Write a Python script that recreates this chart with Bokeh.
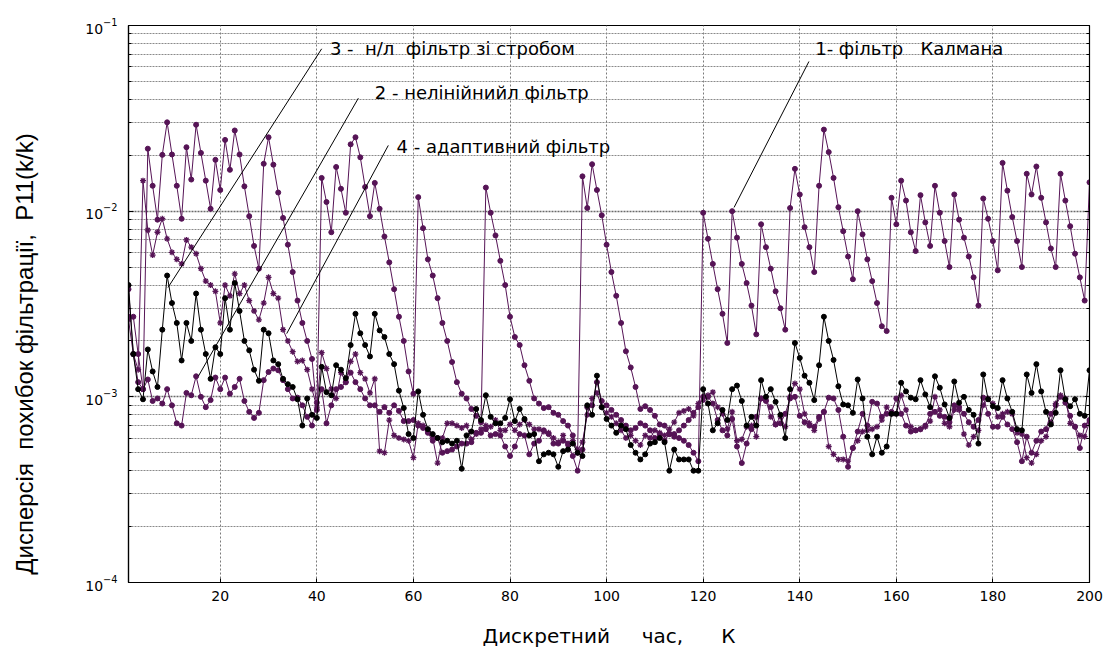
from bokeh.plotting import figure
from bokeh.models import FixedTicker, Label, LogAxis, Range1d
from bokeh.embed import file_html
from bokeh.resources import INLINE

# ---------------- data ----------------
k = list(range(1, 201))

kalman = [
    0.0038, 0.0017, 0.0012, 0.0011, 0.0217, 0.0137, 0.0090, 0.0201, 0.0301, 0.0202,
    0.0137, 0.0091, 0.0221, 0.0148, 0.0292, 0.0206, 0.0146, 0.0103, 0.0189, 0.0130,
    0.0242, 0.0167, 0.0272, 0.0202, 0.0136, 0.0094, 0.0065, 0.0049, 0.0180, 0.0250,
    0.0178, 0.0126, 0.0092, 0.0066, 0.0047, 0.0033, 0.0025, 0.0020, 0.0016, 0.00085,
    0.0151, 0.0112, 0.0077, 0.0173, 0.0132, 0.0098, 0.0229, 0.0250, 0.0195, 0.0135,
    0.0094, 0.0142, 0.0103, 0.0073, 0.0053, 0.0038, 0.0027, 0.0020, 0.00137, 0.00104,
    0.0119, 0.0081, 0.0055, 0.0045, 0.0034, 0.0025, 0.0020, 0.00154, 0.0012, 0.00104,
    0.00098, 0.00086, 0.00079, 0.00073, 0.0134, 0.0098, 0.0074, 0.0054, 0.0040, 0.0027,
    0.0021, 0.0019, 0.00148, 0.00122, 0.00098, 0.00092, 0.00087, 0.00088, 0.00082, 0.00080,
    0.00074, 0.00070, 0.00062, 0.00050, 0.0154, 0.0104, 0.0179, 0.0130, 0.0095, 0.0066,
    0.0047, 0.0035, 0.0025, 0.00176, 0.00144, 0.00113, 0.00086, 0.00089, 0.00085, 0.00079,
    0.00071, 0.00070, 0.00063, 0.00063, 0.00060, 0.00058, 0.00055, 0.00050, 0.00045, 0.0098,
    0.0071, 0.0052, 0.0038, 0.0028, 0.00195, 0.0100, 0.0072, 0.0052, 0.0041, 0.0031,
    0.00217, 0.0085, 0.0064, 0.0049, 0.0037, 0.0030, 0.0023, 0.0104, 0.0169, 0.0123,
    0.0082, 0.0064, 0.0047, 0.0137, 0.0275, 0.0208, 0.0151, 0.0105, 0.0078, 0.0057,
    0.0043, 0.0100, 0.0075, 0.0055, 0.0042, 0.0032, 0.0024, 0.00226, 0.0118, 0.0085,
    0.0146, 0.0114, 0.0077, 0.0061, 0.0122, 0.0087, 0.0065, 0.0137, 0.0098, 0.0069,
    0.0050, 0.0123, 0.0090, 0.0072, 0.0057, 0.0044, 0.0031, 0.0117, 0.0091, 0.0069,
    0.0048, 0.0182, 0.0129, 0.0093, 0.0069, 0.0050, 0.0159, 0.0123, 0.0174, 0.0118,
    0.0087, 0.0063, 0.0050, 0.0159, 0.0114, 0.0083, 0.0059, 0.0044, 0.0033, 0.0143,
]

nonlinear = [
    0.0027, 0.0027, 0.0017, 0.0011, 0.00124, 0.00095, 0.00098, 0.00092, 0.0011, 0.0009,
    0.00072, 0.0007, 0.00105, 0.00102, 0.00129, 0.0010, 0.00088, 0.00096, 0.00127, 0.0011,
    0.00127, 0.00104, 0.00113, 0.00125, 0.00095, 0.00083, 0.00077, 0.00082, 0.00123, 0.00136,
    0.00142, 0.00139, 0.00123, 0.0011, 0.00098, 0.00099, 0.0009, 0.00078, 0.0007, 0.00093,
    0.0011, 0.00072, 0.0009, 0.0011, 0.00113, 0.0012, 0.00135, 0.0012, 0.0011, 0.00098,
    0.0009, 0.0009, 0.00083, 0.00088, 0.00082, 0.0009, 0.00084, 0.00074, 0.00074, 0.00075,
    0.0007, 0.00068, 0.00064, 0.00058, 0.0006, 0.0005, 0.00051, 0.00052, 0.00054, 0.00056,
    0.00056, 0.00057, 0.00064, 0.00064, 0.00067, 0.00062, 0.00063, 0.00062, 0.00054, 0.00048,
    0.00054, 0.00063, 0.00062, 0.00049, 0.00056, 0.00058, 0.00066, 0.00063, 0.00056, 0.00056,
    0.00058, 0.00056, 0.00048, 0.0004, 0.00052, 0.00088, 0.0009, 0.0012, 0.00095, 0.0009,
    0.00085, 0.0008, 0.00075, 0.0007, 0.00066, 0.00068, 0.00072, 0.0007, 0.00066, 0.0006,
    0.00063, 0.00058, 0.00063, 0.00061, 0.00066, 0.0007, 0.00075, 0.00082, 0.00088, 0.0010,
    0.0010, 0.00092, 0.00075, 0.00066, 0.00062, 0.00076, 0.00054, 0.00044, 0.00056, 0.00067,
    0.00078, 0.00098, 0.00095, 0.00088, 0.00071, 0.00072, 0.00081, 0.00098, 0.0010, 0.00079,
    0.00073, 0.0007, 0.00069, 0.00078, 0.00083, 0.00099, 0.00098, 0.00085, 0.00061, 0.00042,
    0.00053, 0.00065, 0.00081, 0.0007, 0.00094, 0.00092, 0.00078, 0.00081, 0.00083, 0.00098,
    0.00081, 0.0007, 0.00065, 0.00066, 0.00067, 0.0007, 0.00081, 0.00083, 0.00079, 0.00078,
    0.00073, 0.0009, 0.00088, 0.00081, 0.00073, 0.00069, 0.00075, 0.00099, 0.00081, 0.00069,
    0.00069, 0.00078, 0.00071, 0.00067, 0.00057, 0.00045, 0.00061, 0.0005, 0.00058, 0.00065,
    0.00067, 0.00081, 0.0009, 0.001, 0.00093, 0.00079, 0.00069, 0.00053, 0.0007, 0.00075,
]

strobe = [
    0.0040, 0.0017, 0.0011, 0.00097, 0.0018, 0.00137, 0.00113, 0.0023, 0.0045, 0.0032,
    0.0025, 0.00157, 0.0025, 0.0020, 0.0036, 0.0023, 0.0017, 0.00125, 0.00185, 0.0017,
    0.0034, 0.0023, 0.0041, 0.0029, 0.0020, 0.00178, 0.0014, 0.00122, 0.0023, 0.0022,
    0.00157, 0.0015, 0.00125, 0.00117, 0.00113, 0.00097, 0.0007, 0.00098, 0.0008, 0.00077,
    0.00145, 0.00106, 0.00102, 0.00148, 0.0014, 0.00126, 0.0019, 0.0028, 0.0022, 0.0019,
    0.00165, 0.0028, 0.00228, 0.0021, 0.0017, 0.0015, 0.00108, 0.00087, 0.00063, 0.0006,
    0.00107, 0.0008, 0.00067, 0.00063, 0.0006, 0.00057, 0.00058, 0.00056, 0.00058, 0.00041,
    0.00062, 0.00065, 0.00086, 0.00075, 0.00102, 0.00078, 0.00072, 0.00072, 0.00077, 0.00097,
    0.00074, 0.00086, 0.00076, 0.00062, 0.00063, 0.00045, 0.00049, 0.0005, 0.00049, 0.00042,
    0.00051, 0.00052, 0.00056, 0.0005, 0.00048, 0.0009, 0.0008, 0.0013, 0.00088, 0.00076,
    0.0007, 0.00064, 0.0007, 0.00067, 0.00055, 0.0005, 0.00046, 0.00049, 0.00056, 0.00057,
    0.0006, 0.00057, 0.0004, 0.00052, 0.00046, 0.00046, 0.00046, 0.0004, 0.0004, 0.0011,
    0.00092, 0.00066, 0.00072, 0.00085, 0.00075, 0.0011, 0.00115, 0.00095, 0.0007, 0.00078,
    0.0007, 0.00123, 0.001, 0.0011, 0.00094, 0.0008, 0.0006, 0.0011, 0.00195, 0.00162,
    0.0013, 0.00119, 0.00096, 0.00148, 0.0027, 0.002, 0.00158, 0.00114, 0.00091, 0.0009,
    0.00082, 0.00124, 0.00098, 0.00061, 0.00049, 0.00061, 0.0005, 0.00054, 0.00081, 0.00081,
    0.00119, 0.00107, 0.00099, 0.00097, 0.00123, 0.00103, 0.00088, 0.00129, 0.00112, 0.00091,
    0.00077, 0.00121, 0.00093, 0.001, 0.00085, 0.0008, 0.00056, 0.00132, 0.00097, 0.00089,
    0.00087, 0.00123, 0.00098, 0.00083, 0.00067, 0.00066, 0.00132, 0.00105, 0.0015, 0.00107,
    0.00083, 0.00071, 0.00082, 0.00139, 0.00097, 0.00089, 0.00097, 0.00081, 0.00079, 0.00139,
]

adaptive = [
    0.0026, 0.0017, 0.0014, 0.0146, 0.0079, 0.0058, 0.0077, 0.0091, 0.0071, 0.0060,
    0.0055, 0.0052, 0.0070, 0.0064, 0.0059, 0.0049, 0.0042, 0.0040, 0.0037, 0.0025,
    0.0040, 0.0035, 0.0046, 0.0036, 0.0040, 0.0033, 0.0029, 0.0026, 0.0032, 0.0044,
    0.0036, 0.0034, 0.0023, 0.0020, 0.00175, 0.00155, 0.00157, 0.0014, 0.0011, 0.00088,
    0.00173, 0.00142, 0.0011, 0.00098, 0.00135, 0.0012, 0.00155, 0.0017, 0.00135, 0.00125,
    0.00105, 0.00125, 0.00051, 0.0005, 0.00075, 0.00062, 0.0006, 0.00059, 0.00058, 0.00047,
    0.00072, 0.0007, 0.00065, 0.0006, 0.00044, 0.0006, 0.00072, 0.00072, 0.0007, 0.00068,
    0.0007, 0.00059, 0.00063, 0.00067, 0.0007, 0.00069, 0.00075, 0.00066, 0.00066, 0.00071,
    0.00066, 0.00071, 0.00075, 0.00071, 0.00067, 0.00067, 0.00065, 0.00064, 0.0006, 0.00057,
    0.00062, 0.00055, 0.00058, 0.00052, 0.00057, 0.0008, 0.00098, 0.00105, 0.00088, 0.00082,
    0.00078, 0.00072, 0.00066, 0.0006, 0.00062, 0.00058, 0.00055, 0.00062, 0.0006, 0.00066,
    0.00064, 0.00062, 0.00067, 0.00073, 0.00082, 0.00084, 0.00086, 0.00079, 0.00092, 0.00096,
    0.00102, 0.00106, 0.00088, 0.00081, 0.00067, 0.00083, 0.00058, 0.00059, 0.00069, 0.0007,
    0.00061, 0.00098, 0.00096, 0.00078, 0.00071, 0.00078, 0.00069, 0.001, 0.00118, 0.0011,
    0.00081, 0.00072, 0.00066, 0.00076, 0.00083, 0.00054, 0.00049, 0.00046, 0.00046, 0.00045,
    0.00053, 0.00058, 0.00065, 0.00066, 0.00067, 0.00069, 0.00075, 0.00088, 0.00081, 0.00081,
    0.00102, 0.00085, 0.00069, 0.00066, 0.00067, 0.00069, 0.00074, 0.001, 0.00085, 0.00072,
    0.00069, 0.00085, 0.00085, 0.00063, 0.00055, 0.00061, 0.00066, 0.0009, 0.00098, 0.00092,
    0.00078, 0.00081, 0.00083, 0.00081, 0.00064, 0.00063, 0.00047, 0.00044, 0.00049, 0.00058,
    0.00061, 0.00073, 0.00092, 0.00102, 0.00098, 0.00072, 0.00069, 0.00062, 0.00061, 0.00073,
]

x_ticks = [20, 40, 60, 80, 100, 120, 140, 160, 180, 200]
y_decades = [1e-4, 1e-3, 1e-2, 1e-1]

labels_text = [
    "1- фільтр   Калмана",
    "2 - нелінійнийл фільтр",
    "3 -  н/л  фільтр зі стробом",
    "4 - адаптивний фільтр",
]
x_title = "Дискретний     час,      К"
y_title = "Дисперсія  похибок фільтрації,  P11(k/k)"

# ---------------- styling / layout ----------------
PURPLE = "#561456"
FONT = "DejaVu Sans"
NB = "\u00a0"

p = figure(
    width=1105, height=650,
    x_range=Range1d(1, 200), y_range=Range1d(1e-4, 1e-1),
    y_axis_type="log",
    output_backend="svg", toolbar_location=None,
    min_border_left=128, min_border_right=16,
    min_border_top=25, min_border_bottom=68,
)
p.background_fill_color = "white"
p.border_fill_color = "white"
p.outline_line_color = "black"
p.outline_line_width = 1.2

minor = [m * 10.0 ** e for e in (-4, -3, -2) for m in range(2, 10)]

p.xaxis.ticker = FixedTicker(ticks=x_ticks, minor_ticks=[])
p.xaxis.major_tick_in = 4
p.xaxis.major_tick_out = 0
p.xaxis.minor_tick_in = 0
p.xaxis.minor_tick_out = 0
p.xaxis.major_label_text_font = FONT
p.xaxis.major_label_text_font_size = "14px"
p.xaxis.major_label_text_color = "black"
p.xaxis.major_label_standoff = 8
p.xaxis.axis_line_color = "black"
p.xaxis.axis_line_width = 1.2
p.xaxis.axis_label = x_title.replace(" ", NB)
p.xaxis.axis_label_text_font = FONT
p.xaxis.axis_label_text_font_size = "20px"
p.xaxis.axis_label_text_font_style = "normal"
p.xaxis.axis_label_text_color = "black"
p.xaxis.axis_label_standoff = 20

p.yaxis.ticker = FixedTicker(ticks=y_decades, minor_ticks=minor)
p.yaxis.major_label_text_font = FONT
p.yaxis.major_label_text_font_size = "14px"
p.yaxis.major_label_text_color = "black"
p.yaxis.major_label_standoff = 11
p.yaxis.major_tick_in = 5
p.yaxis.major_tick_out = 0
p.yaxis.minor_tick_in = 3
p.yaxis.minor_tick_out = 0
p.yaxis.axis_line_color = "black"
p.yaxis.axis_line_width = 1.2
p.yaxis.axis_label = (y_title + " " * 15).replace(" ", NB)
p.yaxis.axis_label_text_font = "Liberation Sans"
p.yaxis.axis_label_text_font_size = "24px"
p.yaxis.axis_label_text_font_style = "normal"
p.yaxis.axis_label_text_color = "black"
p.yaxis.axis_label_standoff = 44

right = LogAxis(ticker=FixedTicker(ticks=y_decades, minor_ticks=minor))
right.major_label_text_color = None
right.major_label_text_font_size = "2px"
right.major_label_standoff = 0
right.major_tick_in = 5
right.major_tick_out = 0
right.minor_tick_in = 3
right.minor_tick_out = 0
right.axis_line_color = "black"
p.add_layout(right, "right")

p.xgrid.ticker = FixedTicker(ticks=x_ticks[:-1], minor_ticks=[])
p.xgrid.grid_line_color = "#7a7a7a"
p.xgrid.grid_line_dash = "2 2"
p.xgrid.grid_line_width = 1
p.ygrid.grid_line_color = "#6a6a6a"
p.ygrid.grid_line_dash = "2 1"
p.ygrid.grid_line_width = 1.3
p.ygrid.minor_grid_line_color = "#8a8a8a"
p.ygrid.minor_grid_line_dash = "2 1"
p.ygrid.minor_grid_line_width = 1

# ---------------- series ----------------
p.line(k, kalman, color=PURPLE, line_width=1)
p.scatter(k, kalman, marker="circle", size=5, color=PURPLE)

p.line(k, nonlinear, color=PURPLE, line_width=1)
p.scatter(k, nonlinear, marker="circle", size=5, color=PURPLE)

p.line(k, adaptive, color=PURPLE, line_width=1)
p.scatter(k, adaptive, marker="asterisk", size=6, line_color=PURPLE, line_width=1.3)

p.line(k, strobe, color="black", line_width=1)
p.scatter(k, strobe, marker="circle", size=5, color="black")

# ---------------- annotations (leader lines + labels) ----------------
lead_x0 = [141.9, 48.6, 41.0, 54.8]
lead_y0 = [0.0640, 0.0406, 0.0749, 0.0226]
lead_x1 = [126.4, 15.45, 9.18, 33.76]
lead_y1 = [0.01047, 0.00129, 0.00388, 0.00219]
p.segment(lead_x0, lead_y0, lead_x1, lead_y1, color="black", line_width=1)

text_x = [143.2, 52.0, 42.7, 56.5]
text_y = [0.0749, 0.0437, 0.0749, 0.0223]
for tx, ty, tt in zip(text_x, text_y, labels_text):
    p.add_layout(Label(x=tx, y=ty, text=tt.replace(" ", NB), text_font=FONT,
                       text_font_size="18px", text_baseline="middle",
                       text_align="left", text_color="black"))

open("out.html", "w").write(file_html(p, INLINE))
